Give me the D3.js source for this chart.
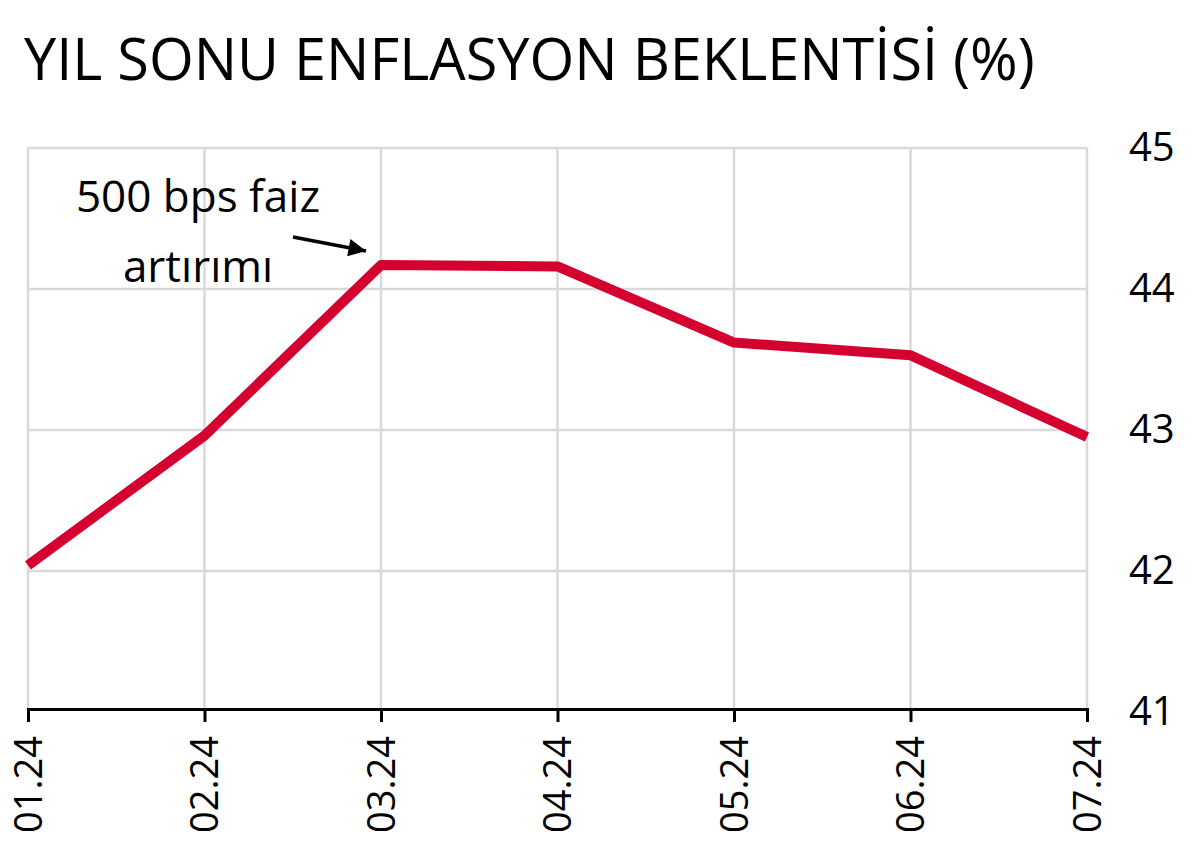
<!DOCTYPE html>
<html><head><meta charset="utf-8">
<script src="https://cdn.jsdelivr.net/npm/d3@7/dist/d3.min.js"></script>
<style>body{margin:0;background:#fff}svg{display:block}text{font-family:"Open Sans",sans-serif}</style>
</head><body><svg id="c" width="1200" height="861"></svg>
<script>
const categories = ["01.24","02.24","03.24","04.24","05.24","06.24","07.24"];
const values = [42.04, 42.96, 44.17, 44.16, 43.62, 43.53, 42.95];
const yTicks = [41, 42, 43, 44, 45];
const title = "YIL SONU ENFLASYON BEKLENTİSİ (%)";
const annotation = ["500 bps faiz", "artırımı"];

const svg = d3.select("#c");
const x = d3.scalePoint().domain(categories).range([28, 1087]);
const y = d3.scaleLinear().domain([41, 45]).range([712, 148]);

const t = svg.append("text").attr("x", 24).attr("y", 80).attr("font-size", 72)
  .attr("font-family", "Lato")
  .attr("fill", "#000").text(title);
const tl = t.node().getComputedTextLength();
t.attr("font-size", 72 * 1011 / tl);

// grid
svg.append("g").selectAll("line").data(categories).join("line")
  .attr("x1", d => x(d)).attr("x2", d => x(d)).attr("y1", y(45)).attr("y2", y(41))
  .attr("stroke", "#d9d9d9").attr("stroke-width", 2.5);
svg.append("g").selectAll("line").data(yTicks.filter(v => v > 41)).join("line")
  .attr("x1", x.range()[0]).attr("x2", x.range()[1]).attr("y1", d => y(d)).attr("y2", d => y(d))
  .attr("stroke", "#d9d9d9").attr("stroke-width", 2.5);

// right axis labels
const ya = svg.append("g").attr("transform", `translate(${x.range()[1]},0)`)
  .call(d3.axisRight(y).tickValues(yTicks).tickSize(0).tickPadding(42).tickFormat(d3.format("d")));
ya.select(".domain").remove();
ya.selectAll("text").attr("font-size", 40).attr("font-family", "Lato").attr("fill", "#000");

// bottom axis
const xa = svg.append("g").attr("transform", `translate(0,${y(41) - 3})`)
  .call(d3.axisBottom(x).tickSize(13).tickSizeOuter(13).tickPadding(18));
xa.select(".domain").attr("stroke", "#000").attr("stroke-width", 3);
xa.selectAll(".tick line").attr("stroke", "#000").attr("stroke-width", 3);
xa.selectAll("text").attr("font-size", 38).attr("font-family", "Open Sans").attr("fill", "#000")
  .attr("transform", "rotate(-90)").attr("text-anchor", "end")
  .attr("dy", "0.35em").attr("x", -27).attr("y", 0);

// line
const line = d3.line().x((d, i) => x(categories[i])).y(d => y(d));
svg.append("path").datum(values).attr("d", line).attr("fill", "none")
  .attr("stroke", "#d4002f").attr("stroke-width", 10).attr("stroke-linejoin", "round");

// annotation
svg.append("defs").append("marker").attr("id", "ah").attr("viewBox", "0 0 10 10")
  .attr("refX", 10).attr("refY", 5).attr("markerWidth", 6).attr("markerHeight", 5)
  .attr("orient", "auto").attr("markerUnits", "strokeWidth")
  .append("path").attr("d", "M0,0 L10,5 L0,10 Z").attr("fill", "#000");
svg.append("line").attr("x1", 293).attr("y1", 237).attr("x2", 366).attr("y2", 251)
  .attr("stroke", "#000").attr("stroke-width", 3.5).attr("marker-end", "url(#ah)");
svg.selectAll(".ann").data(annotation).join("text").attr("class", "ann")
  .attr("x", 198).attr("y", (d, i) => 212 + i * 70).attr("text-anchor", "middle")
  .attr("font-family", "Lato")
  .attr("font-size", 44).attr("fill", "#000").text(d => d);
</script></body></html>
